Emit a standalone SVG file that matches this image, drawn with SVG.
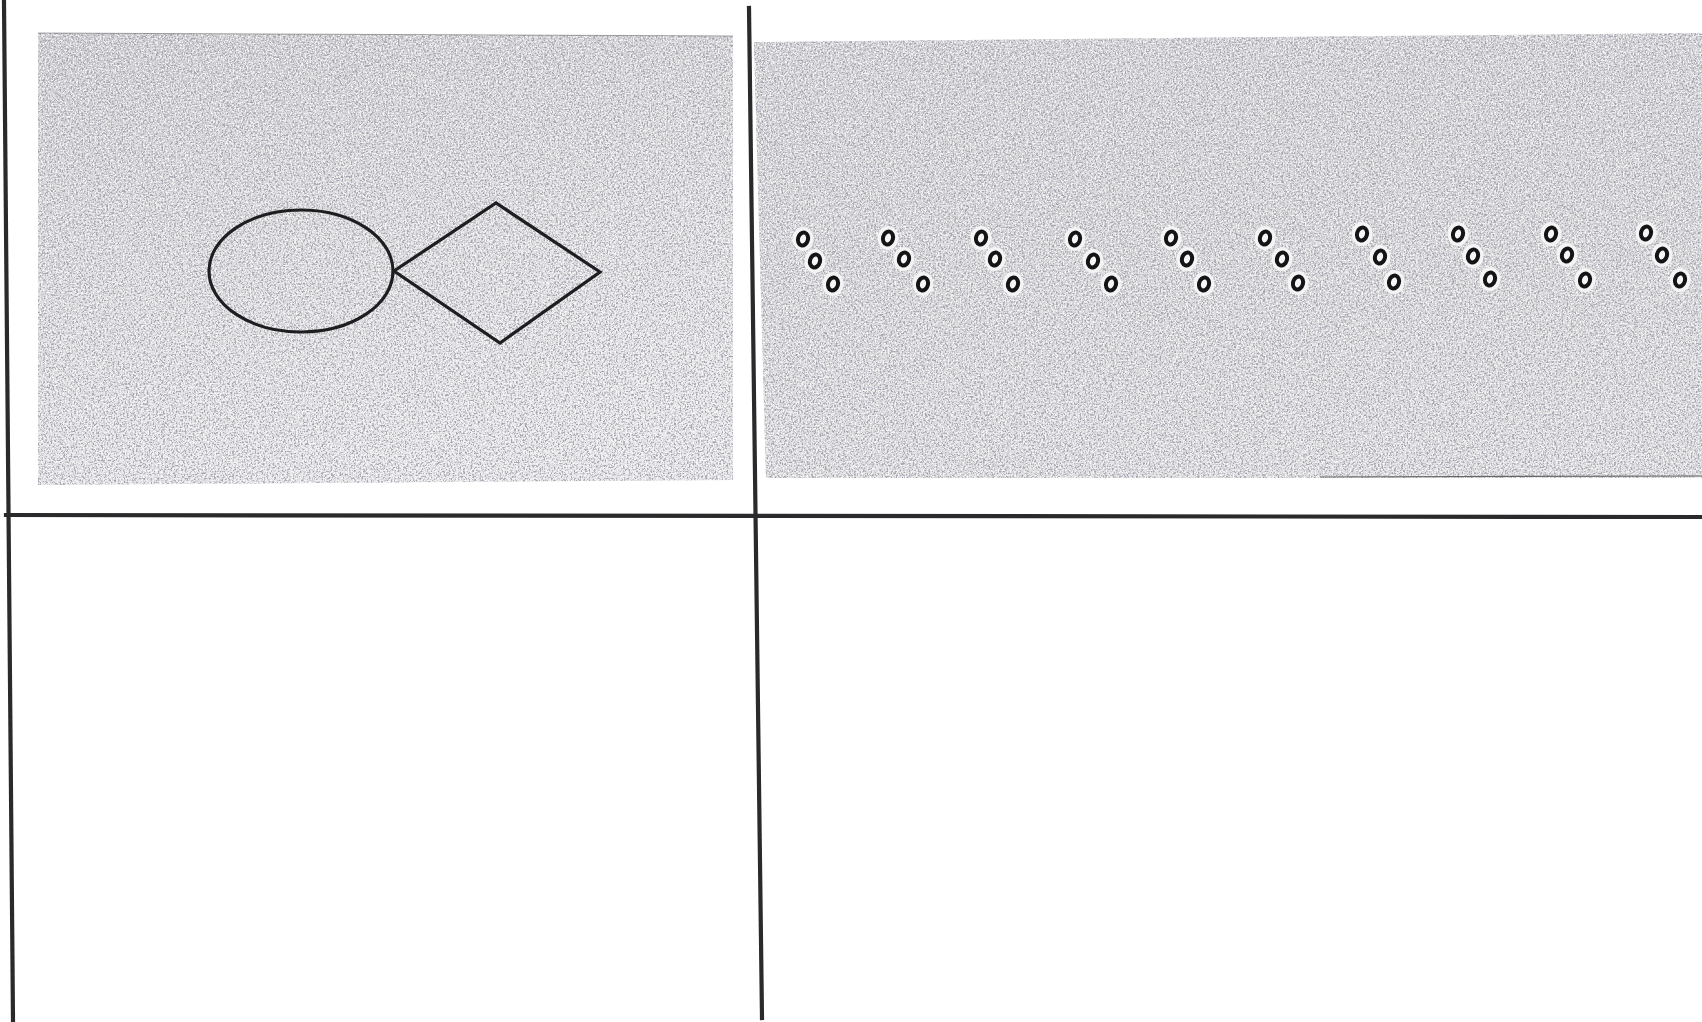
<svg xmlns="http://www.w3.org/2000/svg" width="1702" height="1022" viewBox="0 0 1702 1022">
<defs>
<linearGradient id="gL" x1="0" y1="0" x2="0.3" y2="1">
<stop offset="0" stop-color="#cdcdd0"/>
<stop offset="0.55" stop-color="#dcdcde"/>
<stop offset="1" stop-color="#e6e6e8"/>
</linearGradient>
<linearGradient id="gR" x1="0" y1="0" x2="0" y2="1">
<stop offset="0" stop-color="#d3d3d6"/>
<stop offset="0.5" stop-color="#d6d6d8"/>
<stop offset="1" stop-color="#dedee0"/>
</linearGradient>
<filter id="grain" x="0" y="0" width="1" height="1">
<feTurbulence type="fractalNoise" baseFrequency="0.55" numOctaves="2" seed="4" result="n"/>
<feColorMatrix in="n" type="matrix" values="0 0 0 0 0.38  0 0 0 0 0.38  0 0 0 0 0.44  5 0 0 0 -2.3"/>
<feComposite in2="SourceGraphic" operator="in"/>
</filter>
<filter id="grain2" x="0" y="0" width="1" height="1">
<feTurbulence type="fractalNoise" baseFrequency="0.6" numOctaves="2" seed="9" result="n"/>
<feColorMatrix in="n" type="matrix" values="0 0 0 0 1  0 0 0 0 1  0 0 0 0 1  5 0 0 0 -2.4"/>
<feComposite in2="SourceGraphic" operator="in"/>
</filter>
<style>
.grid{stroke:#2a2a2c;stroke-width:4.2;fill:none;stroke-linecap:square}
.shape{fill:none;stroke:#1e1e20;stroke-width:3.2}
.halo{fill:#f4f4f4;stroke:none}
.ring{fill:#f6f6f6;stroke:#141416;stroke-width:4}
</style>
<g id="ringdef">
<ellipse class="halo" cx="0" cy="0" rx="10.5" ry="12"/>
<ellipse class="ring" cx="0" cy="0" rx="5" ry="6.6" transform="rotate(15)"/>
</g>
</defs>
<rect width="1702" height="1022" fill="#ffffff"/>

<g id="panel-left">
<path d="M38,33 L733,36 L733,480 L38,485 Z" fill="url(#gL)"/>
<path d="M38,33 L733,36 L733,480 L38,485 Z" fill="#000" filter="url(#grain)"/>
<path d="M38,33 L733,36 L733,480 L38,485 Z" fill="#000" filter="url(#grain2)" opacity="0.8"/>
<path d="M38,33 L733,36" stroke="#555" stroke-width="1" fill="none" opacity="0.5"/>
</g>

<g id="panel-right">
<path d="M754,42 L1702,33 L1702,478 L766,478 Z" fill="url(#gR)"/>
<path d="M754,42 L1702,33 L1702,478 L766,478 Z" fill="#000" filter="url(#grain)"/>
<path d="M754,42 L1702,33 L1702,478 L766,478 Z" fill="#000" filter="url(#grain2)" opacity="0.8"/>
<path d="M1320,477 L1702,476" stroke="#666" stroke-width="1.2" fill="none"/>
</g>

<g id="circle">
<ellipse class="shape" cx="301" cy="271" rx="92" ry="61"/>
</g>
<g id="diamond">
<path class="shape" d="M394,271 L496,203 L600,272 L500,343 Z" stroke-width="3.6"/>
</g>

<g id="rings">
<use href="#ringdef" x="803" y="239"/><use href="#ringdef" x="815" y="261"/><use href="#ringdef" x="833" y="284"/>
<use href="#ringdef" x="888" y="238"/><use href="#ringdef" x="904" y="259"/><use href="#ringdef" x="923" y="284"/>
<use href="#ringdef" x="981" y="238"/><use href="#ringdef" x="995" y="259"/><use href="#ringdef" x="1013" y="284"/>
<use href="#ringdef" x="1075" y="239"/><use href="#ringdef" x="1093" y="261"/><use href="#ringdef" x="1111" y="284"/>
<use href="#ringdef" x="1171" y="238"/><use href="#ringdef" x="1187" y="259"/><use href="#ringdef" x="1204" y="284"/>
<use href="#ringdef" x="1265" y="238"/><use href="#ringdef" x="1282" y="259"/><use href="#ringdef" x="1298" y="283"/>
<use href="#ringdef" x="1362" y="234"/><use href="#ringdef" x="1380" y="257"/><use href="#ringdef" x="1394" y="282"/>
<use href="#ringdef" x="1458" y="234"/><use href="#ringdef" x="1473" y="256"/><use href="#ringdef" x="1490" y="279"/>
<use href="#ringdef" x="1551" y="234"/><use href="#ringdef" x="1567" y="255"/><use href="#ringdef" x="1585" y="280"/>
<use href="#ringdef" x="1646" y="233"/><use href="#ringdef" x="1662" y="255"/><use href="#ringdef" x="1680" y="280"/>
</g>

<g id="connectors">
<path class="grid" d="M4,2 L13,1020"/>
<path class="grid" d="M749,8 L762,1018"/>
<path class="grid" d="M6,515 L1702,517"/>
</g>
</svg>
